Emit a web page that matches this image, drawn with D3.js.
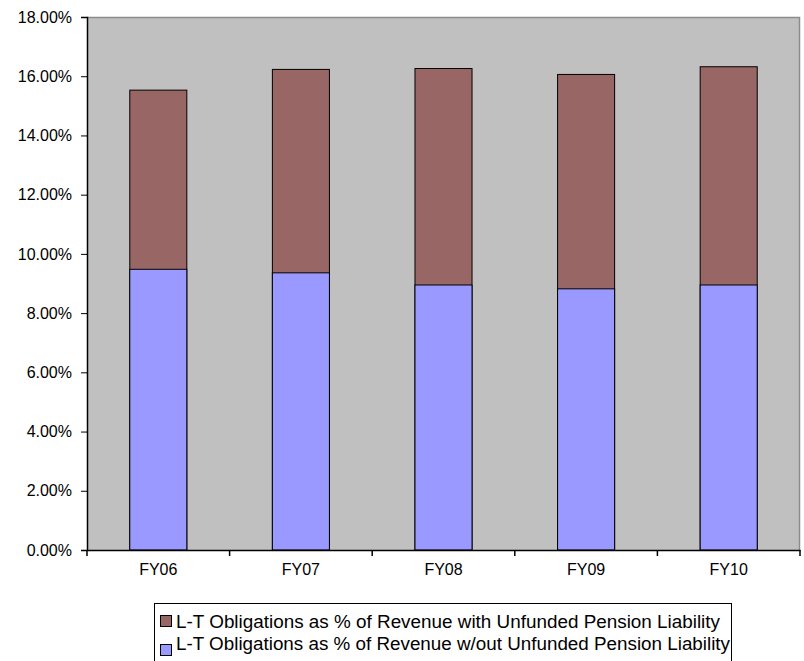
<!DOCTYPE html>
<html>
<head>
<meta charset="utf-8">
<script src="https://cdn.jsdelivr.net/npm/d3@7"></script>
<style>
  html, body { margin: 0; padding: 0; background: #fff; }
  svg text { font-family: "Liberation Sans", Arial, sans-serif; fill: #000; }
</style>
</head>
<body>
<svg id="chart" width="804" height="661"></svg>
<script>
const categories = ["FY06", "FY07", "FY08", "FY09", "FY10"];
const withPension = [15.53, 16.23, 16.26, 16.06, 16.32];
const withoutPension = [9.48, 9.36, 8.95, 8.82, 8.95];
const yTicks = [0, 2, 4, 6, 8, 10, 12, 14, 16, 18];
const seriesNames = [
  "L-T Obligations as % of Revenue with Unfunded Pension Liability",
  "L-T Obligations as % of Revenue w/out Unfunded Pension Liability"
];
const colors = ["#996666", "#9999ff"];

const svg = d3.select("#chart");
const plotLeft = 87, plotRight = 800, plotTop = 17, plotBottom = 550;

const x = d3.scaleBand().domain(categories).range([plotLeft, plotRight]).paddingInner(0.6).paddingOuter(0.3);
const y = d3.scaleLinear().domain([0, 18]).range([plotBottom, plotTop]);

// plot background
svg.append("rect").attr("x", plotLeft).attr("y", plotTop).attr("width", plotRight - plotLeft).attr("height", plotBottom - plotTop)
  .attr("fill", "#c0c0c0");
svg.append("path").attr("d", `M${plotLeft},${plotTop + 0.5}H${plotRight - 0.5}V${plotBottom}`)
  .attr("fill", "none").attr("stroke", "#8c8c8c").attr("stroke-width", 1.5);

// bars
const g = svg.append("g");
g.selectAll("rect.with").data(categories).join("rect").attr("class", "with")
  .attr("x", d => x(d)).attr("width", x.bandwidth())
  .attr("y", (d, i) => y(withPension[i])).attr("height", (d, i) => y(0) - y(withPension[i]))
  .attr("fill", colors[0]).attr("stroke", "#000").attr("stroke-width", 1);
g.selectAll("rect.without").data(categories).join("rect").attr("class", "without")
  .attr("x", d => x(d)).attr("width", x.bandwidth())
  .attr("y", (d, i) => y(withoutPension[i])).attr("height", (d, i) => y(0) - y(withoutPension[i]))
  .attr("fill", colors[1]).attr("stroke", "#000").attr("stroke-width", 1);

// y axis
const yAxis = d3.axisLeft(y).tickValues(yTicks).tickSize(6).tickPadding(9)
  .tickFormat(d => d.toFixed(2) + "%");
const yg = svg.append("g").attr("transform", `translate(${plotLeft},0)`).call(yAxis);
yg.select(".domain").attr("stroke", "#000").attr("stroke-width", 1.5);
yg.selectAll(".tick line").attr("stroke", "#000");
yg.selectAll(".tick text").attr("font-size", 16).style("font-family", '"Liberation Sans", Arial, sans-serif').attr("fill", "#000");

// x axis
const xAxis = d3.axisBottom(x).tickSize(0).tickPadding(14);
const xg = svg.append("g").attr("transform", `translate(0,${plotBottom})`).call(xAxis);
xg.select(".domain").attr("stroke", "#000").attr("stroke-width", 1.5);
xg.selectAll(".tick text").attr("font-size", 16).style("font-family", '"Liberation Sans", Arial, sans-serif').attr("fill", "#000");
// category boundary ticks
const step = x.step();
const bounds = d3.range(categories.length + 1).map(i => plotLeft + i * step);
svg.append("g").selectAll("line").data(bounds).join("line")
  .attr("x1", d => d).attr("x2", d => d).attr("y1", plotBottom).attr("y2", plotBottom + 6)
  .attr("stroke", "#000").attr("stroke-width", 1.5);

// legend
const legendTextWidths = [544, 554];
const lg = svg.append("g");
lg.append("rect").attr("x", 154.5).attr("y", 603.5).attr("width", 577).attr("height", 70)
  .attr("fill", "#fff").attr("stroke", "#000").attr("stroke-width", 1);
seriesNames.forEach((name, i) => {
  lg.append("rect").attr("x", 160.5).attr("y", 615.5 + i * 29).attr("width", 11).attr("height", 11)
    .attr("fill", colors[i]).attr("stroke", "#000").attr("stroke-width", 1);
  lg.append("text").attr("x", 176).attr("y", 627.5 + i * 22).attr("font-size", 17.5)
    .attr("textLength", legendTextWidths[i]).attr("lengthAdjust", "spacingAndGlyphs").text(name);
});
</script>
</body>
</html>
